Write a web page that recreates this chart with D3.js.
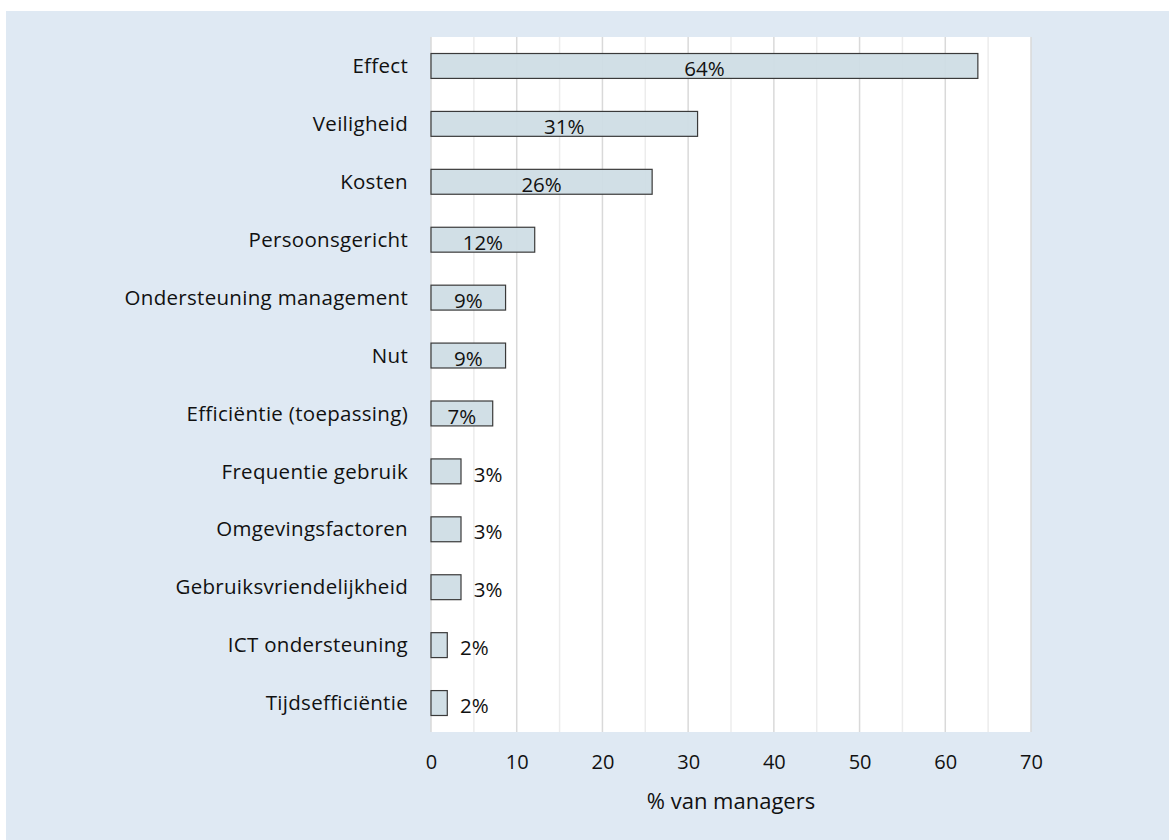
<!DOCTYPE html>
<html><head><meta charset="utf-8">
<script src="https://cdn.jsdelivr.net/npm/d3@7"></script>
<style>
html,body{margin:0;padding:0;background:#fff;}
svg text{font-family:"Open Sans",sans-serif;fill:#111;}
</style></head>
<body>
<svg id="chart" width="1169" height="840"></svg>
<script>
const categories = ["Effect","Veiligheid","Kosten","Persoonsgericht","Ondersteuning management","Nut","Efficiëntie (toepassing)","Frequentie gebruik","Omgevingsfactoren","Gebruiksvriendelijkheid","ICT ondersteuning","Tijdsefficiëntie"];
const values = [63.8,31.1,25.8,12.1,8.7,8.7,7.2,3.5,3.5,3.5,1.9,1.9];
const valueLabels = ["64%","31%","26%","12%","9%","9%","7%","3%","3%","3%","2%","2%"];
const xTicks = [0,10,20,30,40,50,60,70];
const gridTicks = [5,10,15,20,25,30,35,40,45,50,55,60,65,70];
const xTitle = "% van managers";

const svg = d3.select("#chart");
svg.append("rect").attr("x",6).attr("y",11).attr("width",1163).attr("height",829).attr("fill","#dfe9f3");

const L=431, R=1031, T=37, B=732;
svg.append("rect").attr("x",L).attr("y",T).attr("width",R-L).attr("height",B-T).attr("fill","#fff");

const x = d3.scaleLinear().domain([0,70]).range([L,R]);
const y = d3.scaleBand().domain(categories).range([T,B]).paddingInner(0.57).paddingOuter(0.285);

// gridlines
svg.append("g").selectAll("line").data(gridTicks).join("line")
  .attr("x1",d=>x(d)).attr("x2",d=>x(d)).attr("y1",T).attr("y2",B)
  .attr("stroke",d=>d%10===0?"#d9d9d9":"#ececec").attr("stroke-width",1.5);
svg.append("line").attr("x1",L).attr("x2",L).attr("y1",T).attr("y2",B).attr("stroke","#d9d9d9").attr("stroke-width",1.5);

// bars
svg.append("g").selectAll("rect").data(categories).join("rect")
  .attr("x",x(0)).attr("y",d=>y(d)).attr("width",(d,i)=>x(values[i])-x(0)).attr("height",y.bandwidth())
  .attr("fill","#cfdde5").attr("fill-opacity",0.95).attr("stroke","#3a3a3a").attr("stroke-width",1.2);

// value labels
svg.append("g").selectAll("text").data(categories).join("text")
  .attr("x",(d,i)=>{const w=x(values[i])-x(0); return w>40 ? x(0)+w/2 : x(values[i])+27;})
  .attr("y",d=>y(d)+y.bandwidth()/2+3)
  .attr("dy","0.35em").attr("text-anchor","middle").attr("font-size",20.5)
  .text((d,i)=>valueLabels[i]);

// category labels
svg.append("g").selectAll("text").data(categories).join("text")
  .attr("x",L-23).attr("y",d=>y(d)+y.bandwidth()/2)
  .attr("dy","0.35em").attr("text-anchor","end").attr("font-size",20.5)
  .attr("letter-spacing",0.3)
  .text(d=>d);

// x axis
const ax = svg.append("g").attr("transform",`translate(0,${B})`)
  .call(d3.axisBottom(x).tickValues(xTicks).tickSize(0).tickPadding(23));
ax.select(".domain").remove();
ax.selectAll("text").attr("font-size",20).attr("font-family","'Open Sans',sans-serif").attr("fill","#111");

svg.append("text").attr("x",(L+R)/2).attr("y",809).attr("text-anchor","middle").attr("font-size",22).text(xTitle);
</script>
</body></html>
